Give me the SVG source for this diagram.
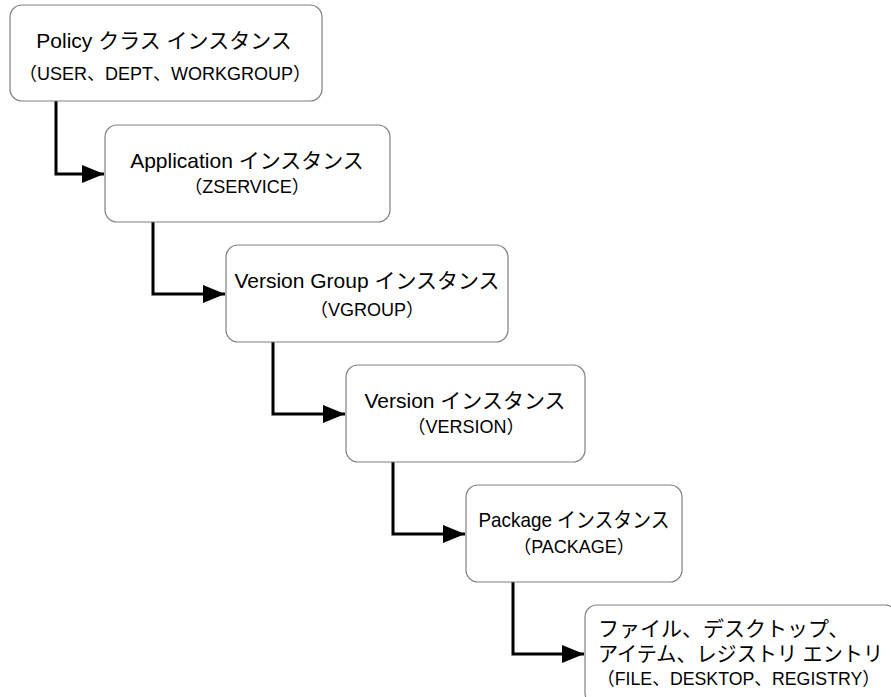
<svg xmlns="http://www.w3.org/2000/svg" width="891" height="697" viewBox="0 0 891 697">
<style>
.box{fill:#fff;stroke:#808080;stroke-width:1.2}
.t{font-family:"Liberation Sans","Noto Sans CJK JP",sans-serif;font-size:21px;fill:#000;text-anchor:middle}
.s{font-family:"Liberation Sans","Noto Sans CJK JP",sans-serif;font-size:18px;fill:#000;text-anchor:middle}
.f{font-family:"Liberation Sans","Noto Sans CJK JP",sans-serif;font-size:21px;fill:#000}
.c{fill:none;stroke:#000;stroke-width:3}
</style>
<defs>
<marker id="ah" markerUnits="userSpaceOnUse" markerWidth="24" markerHeight="20" refX="22" refY="10" orient="auto">
<path d="M0,1 L22,10 L0,19 Z" fill="#000"/>
</marker>
</defs>
<rect width="891" height="697" fill="#fff"/>
<g id="connectors">
<path class="c" d="M56,101 V174 H104" marker-end="url(#ah)"/>
<path class="c" d="M153,222 V294 H225" marker-end="url(#ah)"/>
<path class="c" d="M273,342 V414 H345" marker-end="url(#ah)"/>
<path class="c" d="M393,462 V534 H465" marker-end="url(#ah)"/>
<path class="c" d="M513,582 V654 H584" marker-end="url(#ah)"/>
</g>
<g id="policy">
<rect class="box" x="10" y="5" width="312" height="96" rx="12"/>
<text class="t" x="164" y="48">Policy クラス インスタンス</text>
<text class="s" x="165" y="80">（USER、DEPT、WORKGROUP）</text>
</g>
<g id="application">
<rect class="box" x="105" y="125" width="285" height="97" rx="12"/>
<text class="t" x="247" y="168">Application インスタンス</text>
<text class="s" x="247" y="193">（ZSERVICE）</text>
</g>
<g id="versiongroup">
<rect class="box" x="226" y="245" width="282" height="97" rx="12"/>
<text class="t" x="367" y="288">Version Group インスタンス</text>
<text class="s" x="367" y="316">（VGROUP）</text>
</g>
<g id="version">
<rect class="box" x="346" y="365" width="239" height="97" rx="12"/>
<text class="t" x="465" y="408">Version インスタンス</text>
<text class="s" x="466" y="433">（VERSION）</text>
</g>
<g id="package">
<rect class="box" x="466" y="485" width="216" height="97" rx="12"/>
<text class="t" x="574" y="527" textLength="191" lengthAdjust="spacingAndGlyphs">Package インスタンス</text>
<text class="s" x="574" y="553">（PACKAGE）</text>
</g>
<g id="file">
<rect class="box" x="585" y="605" width="312" height="100" rx="12"/>
<text class="f" x="598" y="636">ファイル、デスクトップ、</text>
<text class="f" x="598" y="661" textLength="285" lengthAdjust="spacingAndGlyphs">アイテム、レジストリ エントリ</text>
<text class="f" x="597" y="685" style="font-size:18px" textLength="283" lengthAdjust="spacingAndGlyphs">（FILE、DESKTOP、REGISTRY）</text>
</g>
</svg>
